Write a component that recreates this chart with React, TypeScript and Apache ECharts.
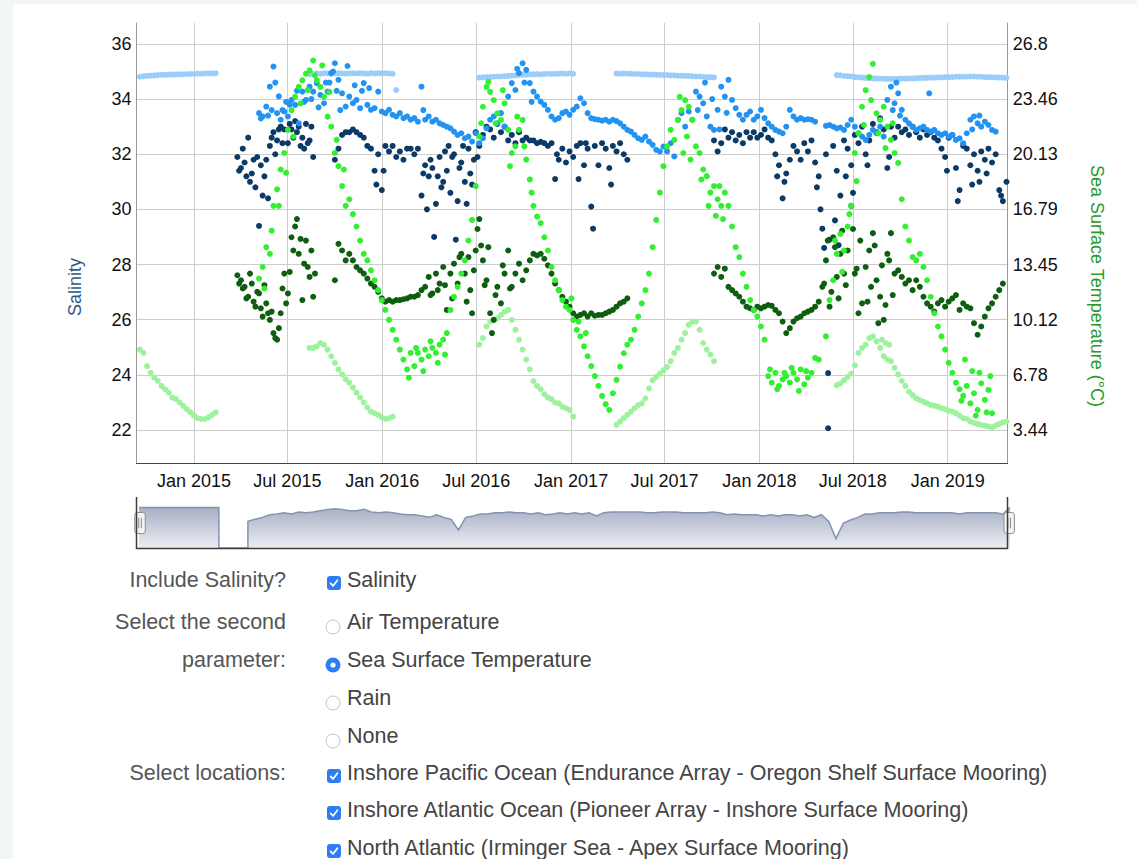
import React, { useEffect, useRef } from "react";
import * as echarts from "echarts";

// ---------- calendar ----------
const FIRST_WEEK = Date.UTC(2014, 8, 11); // week 0 of the weekly sampling
const WEEK_MS = 7 * 24 * 3600 * 1000;
const X_MIN = Date.UTC(2014, 8, 11, 12);
const X_MAX = Date.UTC(2019, 3, 27, 8);

// ---------- axes ----------
const salinityTicks = [22, 24, 26, 28, 30, 32, 34, 36];
const temperatureTicks = [3.44, 6.78, 10.12, 13.45, 16.79, 20.13, 23.46, 26.8];
const dateTicks = [
  "2015-01-01", "2015-07-01", "2016-01-01", "2016-07-01", "2017-01-01",
  "2017-07-01", "2018-01-01", "2018-07-01", "2019-01-01",
];
const monthNames = ["Jan", "Feb", "Mar", "Apr", "May", "Jun", "Jul", "Aug", "Sep", "Oct", "Nov", "Dec"];
const SAL_MIN = 20.8;
const SAL_MAX = 36.76;

type Seg = { w: number; v: number[] };

// ---------- North Atlantic (Irminger Sea) ----------
const irmingerSalinity: Seg[] = [
  { w: 0, v: [34.79, 34.81, 34.83, 34.84, 34.85, 34.86, 34.87, 34.88, 34.88, 34.89, 34.89, 34.9, 34.9, 34.9, 34.91, 34.91, 34.91, 34.92, 34.92, 34.93, 34.93, 34.93, 34.94] },
  { w: 48, v: [34.9, 34.91, 34.93, 34.92, 34.94, 34.93, 34.92, 34.93, 34.94, 34.93, 34.92, 34.93, 34.94, 34.93, 34.94, 34.93, 34.92, 34.94, 34.93, 34.94, 34.93, 34.94, 34.93, 34.92] },
  { w: 72, v: [34.33] },
  { w: 95, v: [34.78, 34.79, 34.8, 34.8, 34.81, 34.82, 34.82, 34.83, 34.84, 34.85, 34.86, 34.88, 34.88, 34.89, 34.9, 34.9, 34.91, 34.9, 34.91, 34.92, 34.91, 34.92, 34.92, 34.93, 34.92, 34.93, 34.92] },
  { w: 133, v: [34.93, 34.92, 34.93, 34.92, 34.92, 34.91, 34.91, 34.9, 34.9, 34.89, 34.89, 34.88, 34.88, 34.87, 34.87, 34.86, 34.86, 34.85, 34.85, 34.84, 34.84, 34.83, 34.82, 34.82, 34.81, 34.8, 34.8, 34.79] },
  { w: 194, v: [34.87, 34.86, 34.84, 34.83, 34.82, 34.8, 34.79, 34.78, 34.77, 34.76, 34.75, 34.75, 34.74, 34.74, 34.73, 34.73, 34.73, 34.74, 34.74, 34.74, 34.75, 34.75, 34.76, 34.76, 34.77, 34.77, 34.78, 34.78, 34.79, 34.79, 34.8, 34.8, 34.8, 34.81, 34.81, 34.81, 34.81, 34.82, 34.82, 34.81, 34.81, 34.8, 34.8, 34.79, 34.79, 34.78, 34.78, 34.77] },
];
const irmingerTemperature: Seg[] = [
  { w: 0, v: [9.4, 8.3, 8.1, 7.3, 6.9, 6.6, 6.4, 6.1, 5.9, 5.7, 5.4, 5.3, 5.1, 4.9, 4.7, 4.5, 4.3, 4.15, 4.1, 4.1, 4.2, 4.35, 4.5] },
  { w: 48, v: [8.4, 8.4, 8.5, 8.7, 8.6, 8.3, 7.9, 7.5, 7.1, 6.8, 6.5, 6.3, 6.0, 5.7, 5.4, 5.1, 4.8, 4.55, 4.45, 4.35, 4.2, 4.1, 4.15, 4.25] },
  { w: 95, v: [8.6, 9.0, 9.7, 10.0, 10.1, 10.2, 10.4, 10.6, 10.7, 10.1, 9.5, 8.9, 8.3, 7.7, 7.1, 6.4, 6.1, 5.9, 5.6, 5.4, 5.3, 5.1, 5.05, 4.85, 4.75, 4.65, 4.25] },
  { w: 133, v: [3.75, 3.95, 4.15, 4.35, 4.55, 4.75, 4.95, 5.05, 5.35, 5.95, 6.45, 6.65, 6.85, 7.05, 7.25, 7.6, 8.1, 8.4, 8.9, 9.3, 9.8, 10.0, 10.0, 9.5, 8.7, 8.3, 8.0, 7.6] },
  { w: 194, v: [6.15, 6.25, 6.45, 6.65, 6.85, 7.35, 8.1, 8.4, 8.6, 9.0, 9.1, 8.8, 8.4, 7.9, 7.7, 7.6, 7.2, 6.8, 6.4, 6.1, 5.75, 5.55, 5.35, 5.25, 5.15, 5.05, 4.95, 4.9, 4.85, 4.75, 4.7, 4.6, 4.55, 4.45, 4.3, 4.15, 4.1, 3.95, 3.85, 3.8, 3.75, 3.7, 3.65, 3.6, 3.7, 3.8, 3.9, 3.95] },
];
const irmingerTemperatureExtra = [[206.5, 8.9], [207.5, 8.7], [208.5, 8.6]];

// ---------- Inshore Pacific (Oregon Shelf) ----------
const oregonSalinity: Seg[] = [
  { w: 28, v: [31.9, 31.5, 31.7, 32.6, 31.3, 30.8, 29.4, 30.5, 31.8, 32.3, 32.8, 32.5, 33.0, 32.9, 32.4, 32.9, 33.2, 33.0, 32.6, 33.1, 32.5, 31.9] },
  { w: 55, v: [
    31.8, 32.2, 32.7, 32.8, 32.8, 32.9, 32.8, 32.7, 32.6, 32.3,
    32.2, 31.4, 32.0, 30.7, 32.3, 32.1, 32.3, 31.9, 32.1, 31.8,
    32.2, 32.2, 32.0, 32.2, 30.5, 31.6, 31.2, 31.5, 30.2, 31.9,
    31.0, 31.4, 30.6, 32.0, 30.3, 31.7, 31.0, 32.2, 30.9, 32.8,
    32.3, 32.7, 33.0, 32.9, 32.6, 33.1, 32.8, 33.0, 32.5, 32.7,
    32.4, 32.8, 32.5, 32.6, 32.5, 32.5, 32.4, 32.45, 32.4, 32.3,
    32.4, 31.1, 31.8, 32.2, 31.7, 32.1, 31.9, 32.3, 32.4, 31.6,
    32.2, 30.1, 32.3, 31.6, 32.4, 32.2, 31.5, 32.3, 32.1, 32.4,
    32.0, 31.8] },
  { w: 160, v: [
    32.5, 32.1, 32.4, 32.9, 32.6, 32.8, 32.5, 32.7, 32.4, 32.8,
    32.6, 32.8, 32.6, 32.7, 32.9, 32.6, 32.5, 32.0, 31.6, 30.4,
    31.3, 31.8, 32.3, 32.1, 31.8, 32.4, 32.1, 32.5, 31.7, 31.2,
    29.3, 32.0, 28.9, 32.3, 31.4, 30.5, 32.5, 32.2, 31.6, 32.7,
    32.4, 33.0, 32.0, 32.5, 33.1, 32.8, 33.3, 32.9, 31.5, 33.0,
    32.6, 33.0, 32.8, 32.9, 32.7, 33.0, 32.8, 32.6, 32.9, 32.7,
    32.8, 32.6, 32.5, 32.2, 31.9, 32.6, 32.7, 31.5, 30.7, 32.3,
    32.2, 31.6, 32.0, 31.4, 32.1, 31.8, 32.2, 31.7, 32.0, 30.7,
    30.3, 31.0] },
];
const oregonSalinityExtra = [
  [28.5, 31.4], [29.5, 32.2], [30.5, 31.2], [31.5, 31.0], [32.5, 31.8], [33.5, 31.9], [34.5, 31.6], [35.5, 31.2],
  [36.5, 30.4], [37.5, 32.6], [38.5, 32.0], [39.5, 32.9], [40.5, 32.4], [42.5, 33.1], [43.5, 32.6], [44.5, 32.8],
  [45.5, 32.3], [46.5, 32.2], [47.5, 32.4], [48.5, 33.0],
  [66.5, 30.9], [68.5, 31.4], [79.5, 31.3], [80.5, 30.0], [81.5, 31.8], [82.5, 29.0], [83.5, 31.2], [84.5, 30.8],
  [85.5, 32.1], [86.5, 32.3], [87.5, 31.9], [88.5, 28.9], [89.5, 31.5], [90.5, 32.3], [91.5, 30.2], [92.5, 31.3],
  [93.5, 31.8], [94.5, 31.9],
  [116.5, 32.0], [122.5, 31.1], [124.5, 32.4], [126.5, 29.3], [131.5, 30.9],
  [177.5, 31.2], [179.5, 31.0], [188.5, 30.8], [189.5, 30.0], [190.5, 28.6], [191.6, 22.06], [191.6, 24.06],
  [193.5, 29.6], [194.5, 28.7], [196.5, 31.2], [198.5, 30.6], [202.5, 31.6], [208.5, 31.9], [224.5, 31.4],
  [227.5, 30.3], [231.5, 30.9], [233.5, 31.0], [235.5, 31.3], [239.5, 30.5],
];
const oregonTemperature: Seg[] = [
  { w: 28, v: [12.8, 12.5, 12.1, 11.5, 12.3, 10.9, 11.7, 10.3, 11.1, 10.1, 9.3, 8.9, 10.5, 12.9, 11.7, 15.1, 15.75, 14.1, 11.3, 14.9, 12.7, 11.5] },
  { w: 55, v: [
    12.5, 14.7, 14.3, 13.7, 14.1, 13.7, 13.3, 13.1, 12.9, 12.6,
    12.3, 12.1, 11.8, 11.4, 11.2, 11.3, 11.2, 11.3, 11.3, 11.35,
    11.4, 11.5, 11.5, 11.6, 11.9, 12.1, 12.7, 11.7, 12.9, 12.3,
    13.3, 10.7, 12.9, 13.5, 12.3, 14.1, 12.9, 13.9, 10.5, 14.3,
    16.2, 13.7, 12.5, 10.5, 10.1, 12.1, 11.1, 12.9, 14.3, 12.1,
    12.9, 13.5, 12.5, 13.1, 13.7, 14.1, 14.0, 14.1, 13.8, 13.4,
    12.9, 12.3, 11.9, 11.5, 11.2, 10.9, 10.5, 10.3, 10.4, 10.5,
    10.3, 10.5, 10.35, 10.4, 10.4, 10.5, 10.6, 10.7, 10.9, 11.1,
    11.2, 11.4] },
  { w: 160, v: [
    12.9, 13.3, 12.7, 13.2, 12.1, 11.9, 11.7, 11.5, 11.2, 10.9,
    10.8, 10.7, 10.9, 10.8, 10.9, 11.0, 10.95, 10.7, 10.5, 10.0,
    9.3, 9.6, 10.0, 10.2, 10.3, 10.5, 10.6, 10.7, 10.9, 11.2,
    12.1, 13.7, 10.9, 15.1, 12.7, 14.1, 12.9, 14.3, 17.0, 12.9,
    10.5, 11.1, 13.3, 14.3, 15.35, 12.5, 11.5, 10.1, 14.1, 15.35,
    12.9, 13.1, 12.7, 12.3, 12.5, 11.9, 12.5, 12.1, 11.5, 11.1,
    10.9, 10.6, 11.1, 11.3, 10.9, 11.2, 11.4, 11.6, 10.7, 11.1,
    10.9, 10.8, 9.9, 9.2, 9.7, 10.3, 10.8, 11.1, 11.5, 11.9,
    12.3] },
];
const oregonTemperatureExtra = [
  [28.5, 12.3], [29.5, 12.0], [30.5, 11.4], [31.5, 12.9], [32.5, 11.2], [33.5, 11.8], [34.5, 10.8], [35.5, 12.2],
  [36.5, 10.5], [37.5, 10.6], [38.5, 9.0], [39.5, 9.6], [40.5, 12.0], [41.5, 11.1], [42.5, 13.0], [43.5, 14.3],
  [44.5, 16.2], [45.5, 15.0], [46.5, 13.5], [47.5, 13.3], [48.5, 14.3], [49.5, 12.9],
  [81.5, 11.6], [83.5, 11.9], [85.5, 12.2], [87.5, 11.4], [89.5, 13.9], [91.5, 11.2], [92.5, 11.9], [93.5, 13.1],
  [94.5, 15.6], [95.5, 14.6], [96.5, 12.2], [97.5, 14.5], [98.5, 9.3], [99.5, 11.6], [101.5, 13.4], [103.5, 12.0],
  [190.5, 12.3], [191.5, 14.9], [192.5, 11.8], [193.5, 14.5], [194.5, 11.4], [195.5, 15.5], [196.5, 12.2],
  [198.5, 15.6], [199.5, 13.2], [200.5, 14.9], [202.5, 11.2], [203.5, 12.1], [204.5, 14.6], [205.5, 9.9],
  [206.5, 13.4], [207.5, 11.0], [208.5, 13.7], [209.5, 11.6],
];

// ---------- Inshore Atlantic (Pioneer) ----------
const pioneerSalinity: Seg[] = [
  { w: 34, v: [
    33.49, 33.37, 33.73, 34.45, 35.18, 33.49, 33.25, 33.55, 33.37, 33.97,
    33.79, 33.12, 34.27, 33.97, 34.45, 34.27, 34.58, 34.15, 33.85, 34.27,
    34.94, 35.3, 34.7, 34.21, 33.73, 34.09, 33.85, 33.97, 33.67, 34.58,
    33.79, 33.61, 33.67, 34.27, 33.55, 33.49, 33.61, 33.43, 33.37, 33.49,
    33.31, 33.37, 33.25, 33.31, 33.18, 34.45, 33.25, 33.37, 33.18, 33.25,
    33.12, 33.06, 33.0, 32.94, 32.82, 32.7, 32.76, 32.58, 32.64, 32.46,
    32.76, 32.4, 32.58, 32.94, 33.25, 33.37, 33.12, 33.49, 33.0, 34.09,
    34.58, 34.33, 34.94, 35.3, 35.06, 34.58, 34.27, 34.09, 33.91, 33.79,
    33.61, 33.37, 33.25, 33.31, 33.49, 33.55, 33.43, 33.61, 33.73, 34.03,
    33.85, 33.49, 33.31, 33.27, 33.25, 33.22, 33.25, 33.18, 33.25, 33.2,
    33.12, 33.0, 32.88, 32.82, 32.7, 32.58, 32.52, 32.64, 32.46, 32.34,
    32.16, 32.1, 32.28, 32.1, 32.4, 31.92, 33.25, 33.49, 33.0, 33.55,
    33.25, 34.27, 34.09, 33.85, 33.37, 33.0, 32.88, 33.61, 34.45, 34.09,
    34.7, 33.97, 33.67, 33.43, 33.25, 33.43, 33.55, 33.25, 33.37, 33.61,
    33.31, 33.12, 33.0, 32.88, 32.82, 32.76, 33.0, 33.61, 33.37, 33.25,
    33.31, 33.25, 33.27, 33.25, 33.18] },
  { w: 191, v: [
    33.03, 33.06, 33.0, 32.94, 32.97, 32.88, 33.06, 33.25, 33.0, 32.76,
    32.64, 32.52, 32.7, 32.88, 32.76, 33.0, 32.64, 33.97, 34.45, 33.85,
    34.21, 33.61, 33.25, 33.12, 33.0, 32.88, 32.94, 33.0, 32.88, 32.82,
    32.88, 32.76, 32.7, 32.76, 32.64, 32.7, 32.52, 32.58, 32.4, 32.76,
    33.25, 33.37, 33.12, 33.0, 33.18, 33.06, 32.88, 32.82] },
];
const pioneerSalinityExtra = [
  [34.5, 33.3], [36.5, 33.4], [37.5, 33.6], [38.5, 34.6], [39.5, 34.1], [40.5, 33.6], [41.5, 33.9], [42.5, 33.8],
  [44.5, 34.3], [46.5, 33.9], [48.5, 34.0], [50.5, 33.7], [52.5, 34.6], [53.5, 34.6], [54.5, 35.0], [55.5, 34.3],
  [56.5, 33.6], [58.5, 35.2], [60.5, 34.5], [62.5, 34.3], [64.5, 34.4], [79.5, 33.6], [105.5, 35.1], [107.5, 34.6],
  [109.5, 33.9], [155.5, 33.6], [157.5, 34.6], [159.5, 34.0], [161.5, 32.9], [163.5, 33.5], [209.5, 33.6],
  [210.5, 34.6], [211.5, 33.4], [219.6, 34.21], [231.5, 32.9], [233.5, 33.4],
];
const pioneerTemperature: Seg[] = [
  { w: 34, v: [
    12.6, 13.3, 14.5, 14.1, 17.0, 18.0, 19.2, 20.2, 21.6, 22.8,
    23.6, 24.2, 24.6, 25.0, 25.2, 25.8, 24.6, 24.2, 23.6, 22.4,
    21.8, 20.2, 19.4, 18.2, 17.0, 17.4, 16.5, 15.75, 14.9, 14.1,
    13.7, 13.1, 12.5, 11.9, 11.3, 10.7, 10.1, 9.5, 8.9, 8.3,
    7.7, 7.1, 8.1, 7.3, 8.1, 7.7, 8.3, 7.9, 8.4, 8.1,
    8.6, 8.9, 9.3] },
  { w: 87, v: [
    10.7, 11.5, 12.1, 12.9, 13.7, 14.9, 16.15, 18.2, 21.2, 23.0,
    24.2, 23.9, 23.4, 22.6, 22.2, 23.2, 21.6, 20.2, 20.6, 21.6,
    22.2, 19.8, 18.6, 17.0, 16.35, 15.95, 15.1, 14.3, 13.3, 12.5,
    11.9, 11.3, 10.9, 10.7, 10.1, 9.5, 9.1, 8.5, 7.9, 7.3,
    6.7, 6.1, 5.5, 5.0, 4.65, 5.66, 6.47, 7.27, 8.08, 8.6,
    8.9, 9.5, 10.3, 11.1, 11.9, 12.9, 14.5, 16.15, 17.8, 19.4,
    20.6, 21.6, 21.0, 22.2, 22.8, 23.4, 23.0, 22.2, 20.6, 20.2,
    19.2, 18.8, 17.8, 18.2, 17.4, 17.0, 17.8, 17.0, 15.75, 14.5,
    13.9, 12.9, 12.1, 11.3, 10.7, 10.3, 9.7, 8.9, 6.7, 6.3,
    6.9, 6.1, 6.5, 6.7, 6.3, 6.9, 6.5, 7.1, 6.2, 6.6,
    6.9, 7.8, 7.7] },
  { w: 191, v: [
    9.1, 11.3, 12.5, 14.1, 15.3, 14.3, 15.75, 17.0, 20.2, 21.4,
    23.0, 24.0, 24.8, 25.6, 22.6, 22.2, 23.0, 21.8, 21.0, 20.2,
    19.6, 17.4, 15.75, 14.9, 13.9, 13.7, 14.1, 13.3, 12.5, 11.5,
    10.5, 9.7, 9.1, 8.3, 7.5, 6.9, 6.3, 5.9, 5.5, 6.1,
    5.05, 5.66, 4.65, 6.26, 5.26, 5.86, 4.45] },
];
const pioneerTemperatureExtra = [
  [35.5, 12.0], [37.5, 15.5], [39.5, 17.0], [41.5, 19.0], [43.5, 21.2], [45.5, 23.2], [47.5, 24.0], [49.5, 24.9],
  [51.5, 25.5], [53.5, 23.9], [55.5, 21.0], [57.5, 19.2],
  [75.5, 6.6], [77.5, 8.4], [79.5, 7.0], [81.5, 8.8], [83.5, 7.5], [85.5, 8.0],
  [95.5, 22.0], [97.5, 24.5], [99.5, 22.0], [101.5, 24.0], [103.5, 19.4], [105.5, 22.4], [107.5, 20.6], [109.5, 17.8],
  [120.5, 11.4], [122.5, 10.0], [124.5, 9.3],
  [150.5, 23.6], [151.5, 20.2], [152.5, 21.2], [153.5, 19.8], [156.5, 18.6], [158.5, 17.0], [160.5, 16.4],
  [161.5, 18.2], [162.5, 16.2],
  [175.5, 7.1], [177.5, 5.9], [179.5, 6.9], [181.5, 7.2], [183.5, 5.8], [185.5, 7.0],
  [193.5, 14.9], [195.5, 13.0], [197.5, 16.5], [199.5, 18.5], [201.5, 21.9], [203.5, 23.4], [205.5, 21.4],
  [207.5, 20.5], [209.5, 22.0],
  [228.5, 5.2], [229.5, 7.7], [231.5, 7.0], [232.5, 4.3], [233.5, 6.9], [235.5, 4.5], [236.5, 6.7],
];

// ---------- navigator (every two weeks, null = no data) ----------
const navigatorValues: (number | null)[] = [
  35.4, 35.4, 35.4, 35.4, 35.4, 35.4, 35.4, 35.4, 35.4, 35.4, 35.4, 35.4,
  null, null, null,
  33.3, 33.6, 33.9, 34.3, 34.4, 34.6, 34.4, 34.7, 34.6, 34.7,
  34.9, 35.1, 35.2, 35.1, 34.9, 34.9, 35.1, 34.7, 34.6, 34.7,
  34.6, 34.4, 34.3, 34.3, 34.1, 33.9, 34.3, 33.9, 33.6, 32.0,
  33.9, 34.1, 34.4, 34.4, 34.6, 34.6, 34.7, 34.6, 34.6, 34.4,
  34.6, 34.3, 34.4, 34.6, 34.4, 34.6, 34.4, 34.6, 34.1, 34.6,
  34.7, 34.7, 34.7, 34.7, 34.7, 34.6, 34.6, 34.7, 34.7, 34.7,
  34.6, 34.6, 34.6, 34.6, 34.7, 34.6, 34.3, 34.4, 34.3, 34.3,
  34.3, 34.1, 34.3, 34.1, 34.3, 34.3, 34.1, 34.3, 33.9, 34.3,
  33.3, 30.7, 33.0, 33.5, 33.9, 34.4, 34.4, 34.6, 34.6, 34.6,
  34.7, 34.7, 34.6, 34.6, 34.6, 34.6, 34.6, 34.6, 34.4, 34.6,
  34.6, 34.6, 34.6, 34.6, 34.4, 35.4,
];

// ---------- form ----------
const optionRows = [
  { base: 587, kind: "check", checked: true, text: "Salinity" },
  { base: 629, kind: "radio", checked: false, text: "Air Temperature" },
  { base: 667, kind: "radio", checked: true, text: "Sea Surface Temperature" },
  { base: 705, kind: "radio", checked: false, text: "Rain" },
  { base: 743, kind: "radio", checked: false, text: "None" },
  { base: 780, kind: "check", checked: true, text: "Inshore Pacific Ocean (Endurance Array - Oregon Shelf Surface Mooring)" },
  { base: 817, kind: "check", checked: true, text: "Inshore Atlantic Ocean (Pioneer Array - Inshore Surface Mooring)" },
  { base: 855, kind: "check", checked: true, text: "North Atlantic (Irminger Sea - Apex Surface Mooring)" },
];
const labelRows = [
  { base: 587, text: "Include Salinity?" },
  { base: 629, text: "Select the second" },
  { base: 667, text: "parameter:" },
  { base: 780, text: "Select locations:" },
];

const FONT = '"Liberation Sans", Arial, Helvetica, sans-serif';

const weekTime = (w: number) => FIRST_WEEK + w * WEEK_MS;
function toPoints(segs: Seg[], extra: number[][] = []) {
  const pts: number[][] = [];
  segs.forEach((s) => s.v.forEach((val, i) => pts.push([weekTime(s.w + i), val])));
  extra.forEach(([w, val]) => pts.push([weekTime(w), val]));
  return pts;
}
const tempOf = (s: number) =>
  temperatureTicks[0] + ((s - salinityTicks[0]) * (temperatureTicks[7] - temperatureTicks[0])) / (salinityTicks[7] - salinityTicks[0]);

function buildOption() {
  const dateValues = dateTicks.map((d) => Date.parse(d + "T00:00:00Z"));
  const labelStyle = { color: "#111", fontSize: 18, fontFamily: FONT };
  const scatter = (name: string, color: string, data: number[][], yAxisIndex: number) => ({
    name,
    type: "scatter",
    data,
    yAxisIndex,
    symbol: "circle",
    symbolSize: 6,
    itemStyle: { color, opacity: 1 },
    silent: true,
    animation: false,
  });
  const shadowArea = new echarts.graphic.LinearGradient(0, 0, 0, 1, [
    { offset: 0, color: "#eceef3" },
    { offset: 1, color: "#a6afc4" },
  ]);
  const dataBg = {
    lineStyle: { color: "#8593b2", width: 1.5, opacity: 1 },
    areaStyle: { color: shadowArea, opacity: 1 },
  };
  const handleStyle = { color: "#f2f2f2", borderColor: "#8c8c8c", borderWidth: 1 };
  const hiddenMove = { color: "rgba(0,0,0,0)", borderColor: "rgba(0,0,0,0)", borderWidth: 0, opacity: 0 };
  return {
    animation: false,
    grid: { left: 136.5, right: 1137 - 1007.7, top: 23, height: 440, containLabel: false, outerBoundsMode: "none" },
    xAxis: {
      type: "value",
      min: X_MIN,
      max: X_MAX,
      axisLine: { show: true, lineStyle: { color: "#444", width: 1 } },
      axisTick: { show: false, customValues: dateValues },
      axisLabel: {
        ...labelStyle,
        customValues: dateValues,
        margin: 9,
        hideOverlap: false,
        formatter: (v: number) => {
          const d = new Date(v);
          return monthNames[d.getUTCMonth()] + " " + d.getUTCFullYear();
        },
      },
      splitLine: { show: true, lineStyle: { color: "#cdcdcd", width: 1 } },
    },
    yAxis: [
      {
        type: "value",
        position: "left",
        min: SAL_MIN,
        max: SAL_MAX,
        axisLine: { show: true, lineStyle: { color: "#999", width: 1 } },
        axisTick: { show: false, customValues: salinityTicks },
        axisLabel: { ...labelStyle, customValues: salinityTicks, margin: 5, padding: [6, 0, 0, 0] },
        splitLine: { show: true, lineStyle: { color: "#cdcdcd", width: 1 } },
      },
      {
        type: "value",
        position: "right",
        min: tempOf(SAL_MIN),
        max: tempOf(SAL_MAX),
        axisLine: { show: true, lineStyle: { color: "#999", width: 1 } },
        axisTick: { show: false, customValues: temperatureTicks },
        axisLabel: { ...labelStyle, customValues: temperatureTicks, margin: 5, padding: [6, 0, 0, 0] },
        splitLine: { show: false },
      },
    ],
    dataZoom: [
      {
        type: "slider",
        xAxisIndex: 0,
        filterMode: "none",
        start: 0,
        end: 100,
        left: 136.5,
        right: 1137 - 1007.7,
        top: 498,
        height: 50,
        backgroundColor: "rgba(0,0,0,0)",
        borderColor: "rgba(0,0,0,0)",
        fillerColor: "rgba(0,0,0,0)",
        showDetail: false,
        showDataShadow: true,
        brushSelect: false,
        moveHandleSize: 0,
        moveHandleIcon: "none",
        moveHandleStyle: hiddenMove,
        dataBackground: dataBg,
        selectedDataBackground: dataBg,
        handleIcon:
          "path://M3,0 L9,0 Q12,0 12,3 L12,21 Q12,24 9,24 L3,24 Q0,24 0,21 L0,3 Q0,0 3,0 Z M4.5,6 L4.5,18 M7.5,6 L7.5,18",
        handleSize: "42%",
        handleStyle,
        emphasis: { handleStyle, moveHandleStyle: hiddenMove },
      },
    ],
    graphic: [
      {
        type: "text",
        x: 75,
        y: 287,
        rotation: Math.PI / 2,
        silent: true,
        style: {
          text: "Salinity",
          fill: "#2b5c8a",
          font: "18px " + FONT,
          align: "center",
          verticalAlign: "middle",
          textAlign: "center",
          textVerticalAlign: "middle",
        },
      },
      {
        type: "text",
        x: 1097,
        y: 286,
        rotation: -Math.PI / 2,
        silent: true,
        style: {
          text: "Sea Surface Temperature (°C)",
          fill: "#2a9a2a",
          font: "18px " + FONT,
          align: "center",
          verticalAlign: "middle",
          textAlign: "center",
          textVerticalAlign: "middle",
        },
      },
      {
        type: "rect",
        z: 9,
        silent: true,
        shape: { x: 138, y: 492, width: 868, height: 7 },
        style: { fill: "#fff" },
      },
      {
        type: "polyline",
        z: 10,
        silent: true,
        shape: { points: [[136.5, 497], [136.5, 548.5], [1007.5, 548.5], [1007.5, 497]] },
        style: { stroke: "#3c3c3c", lineWidth: 1.5, fill: "none" },
      },
    ],
    series: [
      {
        name: "navigator",
        type: "line",
        data: navigatorValues.map((v, i) => [weekTime(i * 2), v]),
        showSymbol: false,
        symbol: "none",
        connectNulls: false,
        lineStyle: { opacity: 0, width: 0 },
        silent: true,
        animation: false,
      },
      scatter("North Atlantic Salinity", "#9ccdfa", toPoints(irmingerSalinity), 0),
      scatter("North Atlantic Sea Surface Temperature", "#9ef29e", toPoints(irmingerTemperature, irmingerTemperatureExtra), 1),
      scatter("Inshore Pacific Ocean Salinity", "#0b3a66", toPoints(oregonSalinity, oregonSalinityExtra), 0),
      scatter("Inshore Pacific Ocean Sea Surface Temperature", "#0e5e10", toPoints(oregonTemperature, oregonTemperatureExtra), 1),
      scatter("Inshore Atlantic Ocean Salinity", "#2293f2", toPoints(pioneerSalinity, pioneerSalinityExtra), 0),
      scatter("Inshore Atlantic Ocean Sea Surface Temperature", "#30f030", toPoints(pioneerTemperature, pioneerTemperatureExtra), 1),
    ],
  };
}

function CheckIcon({ top }: { top: number }) {
  return (
    <svg style={{ position: "absolute", left: 327, top }} width={14} height={14} viewBox="0 0 14 14">
      <rect x="0" y="0" width="14" height="14" rx="3" fill="#2f7df6" />
      <path d="M3.6 7.4 L6 9.9 L10.4 4.2" stroke="#fff" strokeWidth="1.7" fill="none" strokeLinecap="round" strokeLinejoin="round" />
    </svg>
  );
}
function RadioIcon({ top, checked }: { top: number; checked: boolean }) {
  return (
    <svg style={{ position: "absolute", left: 325, top }} width={16} height={16} viewBox="0 0 16 16">
      {checked ? (
        <>
          <circle cx="8" cy="8" r="7.5" fill="#2f7df6" />
          <circle cx="8" cy="8" r="2.6" fill="#fff" />
        </>
      ) : (
        <circle cx="8" cy="8" r="7" fill="#fff" stroke="#c4c4c4" strokeWidth="1" />
      )}
    </svg>
  );
}

export default function App() {
  const ref = useRef<HTMLDivElement>(null);
  useEffect(() => {
    if (!ref.current) return;
    const chart = echarts.init(ref.current, null, { renderer: "svg" });
    chart.setOption(buildOption() as any);
    return () => chart.dispose();
  }, []);
  const textBase = { position: "absolute" as const, fontSize: 21.5, lineHeight: "26px", whiteSpace: "nowrap" as const };
  return (
    <div style={{ position: "absolute", left: 0, top: 0, width: 1137, height: 859, background: "#f2f6f7", overflow: "hidden", fontFamily: FONT }}>
      <div style={{ position: "absolute", left: 13, top: 4, right: 0, bottom: 0, background: "#fff" }} />
      <div ref={ref} style={{ position: "absolute", left: 0, top: 0, width: 1137, height: 560 }} />
      {labelRows.map((r) => (
        <div key={r.text} style={{ ...textBase, left: 0, width: 286, top: r.base - 20.5, textAlign: "right", color: "#555" }}>
          {r.text}
        </div>
      ))}
      {optionRows.map((r) => (
        <React.Fragment key={r.text}>
          {r.kind === "check" ? <CheckIcon top={r.base - 11} /> : <RadioIcon top={r.base - 10} checked={r.checked} />}
          <div style={{ ...textBase, left: 347, top: r.base - 20.5, color: "#444" }}>{r.text}</div>
        </React.Fragment>
      ))}
    </div>
  );
}
